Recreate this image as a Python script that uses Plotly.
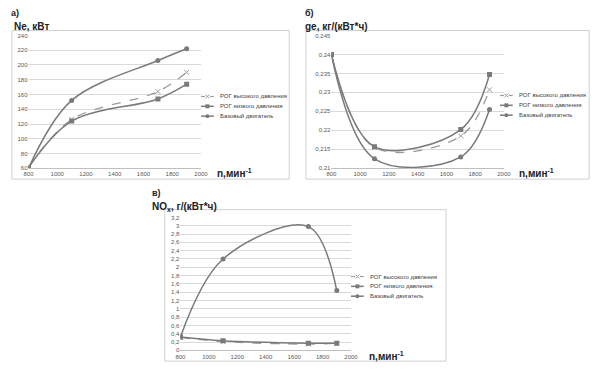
import plotly.graph_objects as go

W, H = 604, 372

# ---- data ----
rpm = [800, 1100, 1700, 1900]
series_names = ["РОГ высокого давления", "РОГ низкого давления", "Базовый двигатель"]

ne_high = [61, 126, 164, 190]
ne_low = [61, 124, 154, 174]
ne_base = [60, 152, 206, 222]

ge_high = [0.240, 0.2155, 0.2185, 0.2307]
ge_low = [0.240, 0.2157, 0.2202, 0.2347]
ge_base = [0.240, 0.2125, 0.2130, 0.2255]

nox_high = [0.31, 0.21, 0.15, 0.17]
nox_low = [0.32, 0.23, 0.17, 0.17]
nox_base = [0.32, 2.20, 2.98, 1.44]

x_ticks = [800, 1000, 1200, 1400, 1600, 1800, 2000]
ne_ticks = [60, 80, 100, 120, 140, 160, 180, 200, 220, 240]
ge_ticks = [0.21, 0.215, 0.22, 0.225, 0.23, 0.235, 0.24, 0.245]
ge_ticktext = ["0,21", "0,215", "0,22", "0,225", "0,23", "0,235", "0,24", "0,245"]
nox_ticks = [0, 0.2, 0.4, 0.6, 0.8, 1, 1.2, 1.4, 1.6, 1.8, 2, 2.2, 2.4, 2.6, 2.8, 3, 3.2]
nox_ticktext = ["0", "0,2", "0,4", "0,6", "0,8", "1", "1,2", "1,4", "1,6", "1,8", "2",
                "2,2", "2,4", "2,6", "2,8", "3", "3,2"]

GREY = "#7a7a7a"
DASH = "#9a9a9a"
FONT = "Liberation Sans"

fig = go.Figure()

panels = [
    ("", "", [ne_high, ne_low, ne_base]),
    ("2", "2", [ge_high, ge_low, ge_base]),
    ("3", "3", [nox_high, nox_low, nox_base]),
]
styles = [
    dict(line=dict(color=DASH, width=1.3, dash="dash", shape="spline"),
         marker=dict(symbol="x-thin", size=5, line=dict(color=DASH, width=1), color=DASH)),
    dict(line=dict(color=GREY, width=1.5, shape="spline"),
         marker=dict(symbol="square", size=5, color=GREY)),
    dict(line=dict(color=GREY, width=1.5, shape="spline"),
         marker=dict(symbol="circle", size=5, color=GREY)),
]
for xs, ys, vals in panels:
    for name, v, st in zip(series_names, vals, styles):
        fig.add_trace(go.Scatter(
            x=rpm, y=v, name=name, mode="lines+markers", showlegend=False,
            xaxis="x" + xs, yaxis="y" + ys, **st))

def px_x(p):
    return p / W

def px_y(p):
    return 1 - p / H

tickfont = dict(family=FONT, size=6, color="#595959")
def xaxis(d0, d1, anchor):
    return dict(domain=[px_x(d0), px_x(d1)], range=[800, 2000], tickvals=x_ticks,
                showgrid=False, zeroline=False, showline=True, linecolor="#bfbfbf",
                linewidth=1, ticks="", tickfont=tickfont, anchor=anchor, fixedrange=True)

def yaxis(t, b, anchor, rng, tv, tt=None):
    d = dict(domain=[px_y(b), px_y(t)], range=rng, tickvals=tv, showgrid=True,
             gridcolor="#d9d9d9", gridwidth=1, zeroline=False, showline=False,
             ticks="", tickfont=tickfont, anchor=anchor, fixedrange=True)
    if tt is not None:
        d["ticktext"] = tt
    return d

fig.update_layout(
    width=W, height=H, margin=dict(l=0, r=0, t=0, b=0),
    paper_bgcolor="white", plot_bgcolor="white",
    font=dict(family=FONT, color="#333"),
    xaxis=xaxis(24, 200, "y"),
    yaxis=yaxis(33, 168, "x", [60, 240], ne_ticks),
    xaxis2=xaxis(333, 509, "y2"),
    yaxis2=yaxis(33, 168, "x2", [0.21, 0.245], ge_ticks, ge_ticktext),
    xaxis3=xaxis(179, 353, "y3"),
    yaxis3=yaxis(218, 353, "x3", [0, 3.2], nox_ticks, nox_ticktext),
    showlegend=False,
)

# chart-area frames
for x0, y0, x1, y1 in [(7, 28, 290, 179), (307, 28, 596, 179), (163, 210, 450, 364)]:
    fig.add_shape(type="rect", xref="paper", yref="paper",
                  x0=px_x(x0), x1=px_x(x1), y0=px_y(y1), y1=px_y(y0),
                  line=dict(color="#d0d0d0", width=1), fillcolor="rgba(0,0,0,0)", layer="below")

def label(text, x, y, size=10, color="#222"):
    fig.add_annotation(text=text, x=px_x(x), y=px_y(y), xref="paper", yref="paper",
                       xanchor="left", yanchor="middle", showarrow=False,
                       font=dict(family=FONT, size=size, color=color))

def pline(x0, y0, x1, y1, color, width=1, dash="solid"):
    fig.add_shape(type="line", xref="paper", yref="paper",
                  x0=px_x(x0), x1=px_x(x1), y0=px_y(y0), y1=px_y(y1),
                  line=dict(color=color, width=width, dash=dash))

# custom compact legends (Excel style)
def legend(lx, ly, step=10):
    for i, name in enumerate(series_names):
        y = ly + i * step
        cx = lx + 6.5
        if i == 0:
            pline(lx, y, lx + 4, y, DASH, 1.2)
            pline(lx + 9, y, lx + 13, y, DASH, 1.2)
            pline(cx - 2, y - 2, cx + 2, y + 2, DASH, 1)
            pline(cx - 2, y + 2, cx + 2, y - 2, DASH, 1)
        else:
            pline(lx, y, lx + 13, y, GREY, 1.5)
            kind = "rect" if i == 1 else "circle"
            fig.add_shape(type=kind, xref="paper", yref="paper",
                          x0=px_x(cx - 2), x1=px_x(cx + 2), y0=px_y(y + 2), y1=px_y(y - 2),
                          line=dict(width=0), fillcolor=GREY)
        label(name, lx + 17, y, 6, "#404040")

legend(200, 95)
legend(505, 94)
legend(353, 278)

label("<b>а)</b>", 4, 10, 9)
label("<b>Ne, кВт</b>", 7, 24, 10)
label("<b>n,мин<sup>-1</sup></b>", 214, 173, 10)
label("<b>б)</b>", 304, 10, 9)
label("<b>ge, кг/(кВт*ч)</b>", 304, 24, 10)
label("<b>n,мин<sup>-1</sup></b>", 522, 173, 10)
label("<b>в)</b>", 148, 193, 9)
label("<b>NO<sub>x</sub>, г/(кВт*ч)</b>", 148, 207, 10)
label("<b>n,мин<sup>-1</sup></b>", 369, 359, 10)

fig.write_html("out.html", config={"displayModeBar": False, "staticPlot": True},
               post_script="document.body.style.margin='0';document.body.style.overflow='hidden';")
